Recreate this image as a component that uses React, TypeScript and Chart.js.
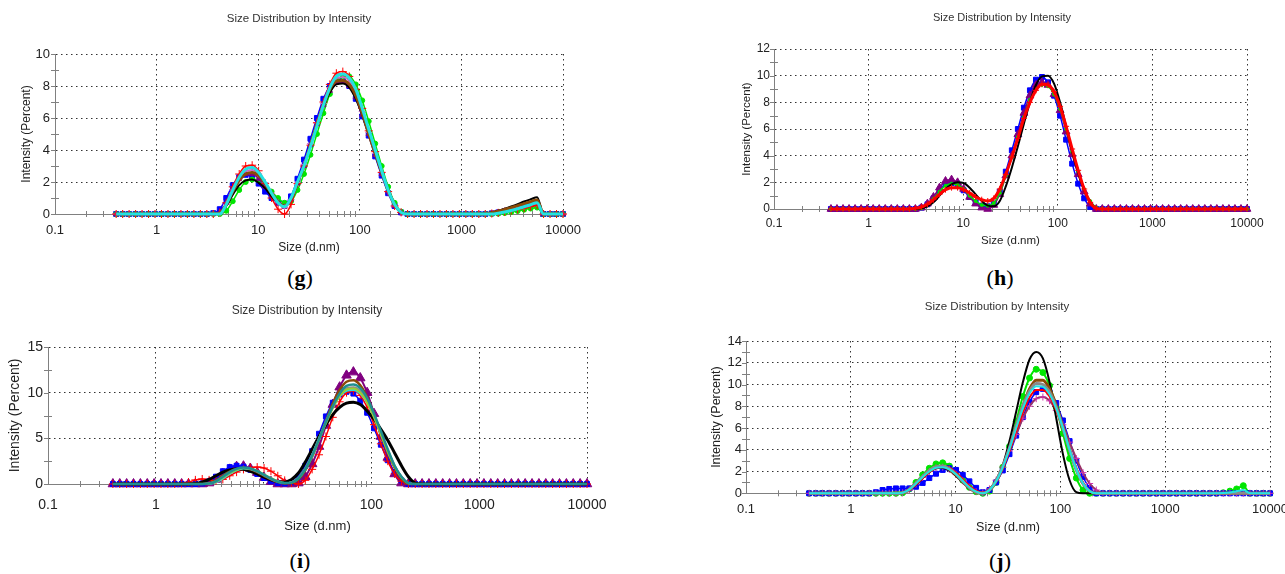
import { useEffect, useRef } from 'react';
import { Chart, registerables } from 'chart.js';

Chart.register(...registerables);
Chart.defaults.font.family = 'Arial, "Liberation Sans", Helvetica, sans-serif';
Chart.defaults.color = '#222';

const TITLE = 'Size Distribution by Intensity';
const X_TITLE = 'Size (d.nm)';
const Y_TITLE = 'Intensity (Percent)';

// Size classes (d.nm) of the intensity distribution
const SIZES = [
  0.4, 0.4632, 0.5365, 0.6213, 0.7195, 0.8332, 0.965, 1.117, 1.294, 1.499,
  1.736, 2.01, 2.328, 2.696, 3.122, 3.615, 4.187, 4.849, 5.615, 6.503,
  7.531, 8.721, 10.1, 11.7, 13.54, 15.69, 18.17, 21.04, 24.36, 28.21,
  32.67, 37.84, 43.82, 50.75, 58.77, 68.06, 78.82, 91.28, 105.7, 122.4,
  141.8, 164.2, 190.1, 220.2, 255, 295.3, 342, 396.1, 458.7, 531.2,
  615.1, 712.4, 825, 955.4, 1106, 1281, 1484, 1718, 1990, 2305,
  2669, 3091, 3580, 4145, 4801, 5560, 6439, 7456, 8635, 10000,
];

const X_TICKS = [0.1, 1, 10, 100, 1000, 10000];
const X_TICK_LABELS = ['0.1', '1', '10', '100', '1000', '10000'];

// ---- panel (g) ----
const G_RED = [
  0, 0, 0, 0, 0, 0, 0, 0, 0, 0,
  0, 0, 0, 0, 0, 0, 0.1, 0.7, 1.7, 2.5,
  3.0, 3.05, 2.7, 1.9, 1.0, 0.3, 0, 0.6, 1.9, 3.0,
  4.3, 5.7, 7.0, 8.1, 8.8, 8.9, 8.6, 7.8, 6.6, 5.2,
  3.9, 2.6, 1.4, 0.5, 0.1, 0, 0, 0, 0, 0,
  0, 0, 0, 0, 0, 0, 0, 0, 0.03, 0.07,
  0.13, 0.2, 0.28, 0.37, 0.46, 0.55, 0, 0, 0, 0,
];
const G_GREEN = [
  0, 0, 0, 0, 0, 0, 0, 0, 0, 0,
  0, 0, 0, 0, 0, 0, 0, 0.2, 0.8, 1.5,
  2.0, 2.15, 2.1, 1.8, 1.4, 1.0, 0.7, 0.8, 1.5, 2.5,
  3.7, 5.0, 6.3, 7.5, 8.3, 8.6, 8.6, 8.1, 7.1, 5.8,
  4.4, 3.0, 1.7, 0.7, 0.15, 0, 0, 0, 0, 0,
  0, 0, 0, 0, 0, 0, 0, 0, 0, 0.02,
  0.06, 0.12, 0.19, 0.27, 0.34, 0.4, 0, 0, 0, 0,
];
const G_BLUE = [
  0, 0, 0, 0, 0, 0, 0, 0, 0, 0,
  0, 0, 0, 0, 0, 0.05, 0.3, 1.0, 1.8, 2.3,
  2.45, 2.3, 1.9, 1.4, 1.0, 0.7, 0.65, 1.1, 2.2, 3.4,
  4.7, 6.0, 7.2, 8.0, 8.4, 8.35, 8.0, 7.2, 6.1, 4.9,
  3.6, 2.4, 1.3, 0.5, 0.1, 0, 0, 0, 0, 0,
  0, 0, 0, 0, 0, 0, 0, 0, 0.04, 0.1,
  0.18, 0.28, 0.38, 0.48, 0.57, 0.65, 0, 0, 0, 0,
];
const G_BLACK = [
  0, 0, 0, 0, 0, 0, 0, 0, 0, 0,
  0, 0, 0, 0, 0, 0, 0.05, 0.5, 1.2, 1.8,
  2.1, 2.15, 1.95, 1.6, 1.1, 0.7, 0.5, 0.9, 1.9, 3.0,
  4.3, 5.5, 6.7, 7.6, 8.1, 8.15, 7.9, 7.2, 6.2, 5.0,
  3.8, 2.6, 1.5, 0.6, 0.1, 0, 0, 0, 0, 0,
  0, 0, 0, 0, 0, 0, 0, 0.03, 0.1, 0.2,
  0.33, 0.47, 0.62, 0.78, 0.92, 1.05, 0, 0, 0, 0,
];
const G_BROWN = [
  0, 0, 0, 0, 0, 0, 0, 0, 0, 0,
  0, 0, 0, 0, 0, 0, 0.05, 0.6, 1.4, 2.1,
  2.5, 2.6, 2.4, 1.9, 1.3, 0.75, 0.5, 0.95, 1.95, 3.0,
  4.3, 5.6, 6.8, 7.8, 8.3, 8.35, 8.1, 7.4, 6.3, 5.0,
  3.8, 2.6, 1.5, 0.6, 0.1, 0, 0, 0, 0, 0,
  0, 0, 0, 0, 0, 0, 0, 0.02, 0.08, 0.17,
  0.28, 0.4, 0.52, 0.65, 0.77, 0.88, 0, 0, 0, 0,
];
const G_PURPLE = [
  0, 0, 0, 0, 0, 0, 0, 0, 0, 0,
  0, 0, 0, 0, 0, 0, 0.1, 0.7, 1.6, 2.2,
  2.5, 2.5, 2.2, 1.7, 1.2, 0.7, 0.45, 0.9, 1.9, 3.0,
  4.3, 5.6, 6.8, 7.7, 8.2, 8.25, 8.0, 7.3, 6.2, 5.0,
  3.7, 2.5, 1.4, 0.5, 0.1, 0, 0, 0, 0, 0,
  0, 0, 0, 0, 0, 0, 0, 0, 0.05, 0.12,
  0.2, 0.3, 0.4, 0.5, 0.6, 0.7, 0, 0, 0, 0,
];
const G_PINK = [
  0, 0, 0, 0, 0, 0, 0, 0, 0, 0,
  0, 0, 0, 0, 0, 0, 0.05, 0.6, 1.5, 2.2,
  2.7, 2.75, 2.5, 1.95, 1.3, 0.7, 0.4, 0.9, 2.0, 3.1,
  4.4, 5.7, 6.9, 7.9, 8.5, 8.55, 8.3, 7.6, 6.4, 5.1,
  3.8, 2.6, 1.4, 0.5, 0.1, 0, 0, 0, 0, 0,
  0, 0, 0, 0, 0, 0, 0, 0, 0.04, 0.1,
  0.18, 0.27, 0.37, 0.47, 0.56, 0.65, 0, 0, 0, 0,
];
const G_CYAN = [
  0, 0, 0, 0, 0, 0, 0, 0, 0, 0,
  0, 0, 0, 0, 0, 0, 0, 0.6, 1.5, 2.3,
  2.8, 2.9, 2.6, 2.0, 1.3, 0.7, 0.45, 1.0, 2.0, 3.0,
  4.2, 5.5, 6.8, 7.9, 8.6, 8.75, 8.5, 7.8, 6.6, 5.3,
  4.0, 2.7, 1.5, 0.6, 0.1, 0, 0, 0, 0, 0,
  0, 0, 0, 0, 0, 0, 0, 0, 0, 0.05,
  0.12, 0.22, 0.33, 0.45, 0.58, 0.7, 0, 0, 0, 0,
];

// ---- panel (h) ----
const H_BLACK = [
  0, 0, 0, 0, 0, 0, 0, 0, 0, 0,
  0, 0, 0, 0, 0, 0.05, 0.2, 0.5, 1.0, 1.5,
  1.85, 2.0, 1.95, 1.6, 1.1, 0.6, 0.25, 0.2, 0.6, 1.7,
  3.1, 4.7, 6.4, 8.0, 9.3, 9.95, 10.0, 9.4, 8.0, 6.2,
  4.3, 2.7, 1.4, 0.5, 0.05, 0, 0, 0, 0, 0,
  0, 0, 0, 0, 0, 0, 0, 0, 0, 0,
  0, 0, 0, 0, 0, 0, 0, 0, 0, 0,
];
const H_BLUE = [
  0, 0, 0, 0, 0, 0, 0, 0, 0, 0,
  0, 0, 0, 0, 0, 0.1, 0.35, 0.8, 1.4, 1.85,
  1.95, 1.8, 1.4, 0.9, 0.5, 0.25, 0.2, 0.4, 1.3, 2.8,
  4.4, 6.0, 7.6, 8.9, 9.7, 9.9, 9.5, 8.5, 7.0, 5.2,
  3.4, 1.9, 0.8, 0.15, 0, 0, 0, 0, 0, 0,
  0, 0, 0, 0, 0, 0, 0, 0, 0, 0,
  0, 0, 0, 0, 0, 0, 0, 0, 0, 0,
];
const H_PURPLE = [
  0, 0, 0, 0, 0, 0, 0, 0, 0, 0,
  0, 0, 0, 0, 0, 0.1, 0.4, 0.9, 1.6, 2.1,
  2.2, 2.0, 1.5, 0.9, 0.4, 0.1, 0, 0.3, 1.1, 2.5,
  4.0, 5.6, 7.2, 8.5, 9.3, 9.5, 9.3, 8.6, 7.4, 5.8,
  4.1, 2.6, 1.3, 0.4, 0, 0, 0, 0, 0, 0,
  0, 0, 0, 0, 0, 0, 0, 0, 0, 0,
  0, 0, 0, 0, 0, 0, 0, 0, 0, 0,
];
const H_GREEN = [
  0, 0, 0, 0, 0, 0, 0, 0, 0, 0,
  0, 0, 0, 0, 0, 0.05, 0.3, 0.75, 1.3, 1.75,
  1.9, 1.8, 1.5, 1.0, 0.6, 0.3, 0.25, 0.45, 1.2, 2.5,
  3.9, 5.4, 6.9, 8.2, 9.0, 9.3, 9.2, 8.6, 7.5, 6.0,
  4.3, 2.8, 1.5, 0.6, 0.1, 0, 0, 0, 0, 0,
  0, 0, 0, 0, 0, 0, 0, 0, 0, 0,
  0, 0, 0, 0, 0, 0, 0, 0, 0, 0,
];
const H_RED = [
  0, 0, 0, 0, 0, 0, 0, 0, 0, 0,
  0, 0, 0, 0, 0.05, 0.15, 0.35, 0.7, 1.1, 1.45,
  1.6, 1.6, 1.45, 1.2, 0.9, 0.7, 0.6, 0.8, 1.5, 2.6,
  3.9, 5.3, 6.8, 8.0, 8.9, 9.35, 9.3, 8.8, 7.7, 6.2,
  4.5, 2.9, 1.5, 0.5, 0.05, 0, 0, 0, 0, 0,
  0, 0, 0, 0, 0, 0, 0, 0, 0, 0,
  0, 0, 0, 0, 0, 0, 0, 0, 0, 0,
];

// ---- panel (i) ----
const I_RED = [
  0, 0, 0, 0, 0, 0, 0, 0, 0, 0,
  0.05, 0.2, 0.45, 0.55, 0.45, 0.35, 0.5, 0.9, 1.3, 1.6,
  1.8, 1.85, 1.75, 1.4, 0.9, 0.4, 0.1, 0, 0.4, 1.6,
  3.2, 5.2, 7.3, 9.0, 10.0, 10.2, 9.7, 8.4, 6.5, 4.4,
  2.5, 1.1, 0.3, 0, 0, 0, 0, 0, 0, 0,
  0, 0, 0, 0, 0, 0, 0, 0, 0, 0,
  0, 0, 0, 0, 0, 0, 0, 0, 0, 0,
];
const I_BLUE = [
  0, 0, 0, 0, 0, 0, 0, 0, 0, 0,
  0, 0, 0, 0.05, 0.3, 0.8, 1.4, 1.85, 2.0, 1.9,
  1.55, 1.1, 0.65, 0.3, 0.1, 0.05, 0.2, 0.8, 2.0, 3.6,
  5.5, 7.4, 8.9, 9.8, 10.1, 9.9, 9.1, 7.8, 6.1, 4.3,
  2.6, 1.3, 0.4, 0, 0, 0, 0, 0, 0, 0,
  0, 0, 0, 0, 0, 0, 0, 0, 0, 0,
  0, 0, 0, 0, 0, 0, 0, 0, 0, 0,
];
const I_BLACK = [
  0, 0, 0, 0, 0, 0, 0, 0, 0, 0,
  0, 0, 0.05, 0.2, 0.5, 0.9, 1.3, 1.55, 1.65, 1.6,
  1.4, 1.1, 0.75, 0.45, 0.25, 0.2, 0.5, 1.2, 2.4, 3.8,
  5.2, 6.5, 7.6, 8.4, 8.85, 8.95, 8.7, 8.0, 7.1, 6.0,
  4.8, 3.4, 2.0, 0.8, 0.1, 0, 0, 0, 0, 0,
  0, 0, 0, 0, 0, 0, 0, 0, 0, 0,
  0, 0, 0, 0, 0, 0, 0, 0, 0, 0,
];
const I_PURPLE = [
  0, 0, 0, 0, 0, 0, 0, 0, 0, 0,
  0, 0, 0, 0, 0.1, 0.5, 1.1, 1.6, 1.9, 1.95,
  1.7, 1.25, 0.7, 0.25, 0, 0, 0, 0.1, 0.8, 2.2,
  4.1, 6.4, 8.7, 10.6, 11.9, 12.25, 11.6, 10.0, 7.7, 5.2,
  2.9, 1.1, 0.1, 0, 0, 0, 0, 0, 0, 0,
  0, 0, 0, 0, 0, 0, 0, 0, 0, 0,
  0, 0, 0, 0, 0, 0, 0, 0, 0, 0,
];
const I_BROWN = [
  0, 0, 0, 0, 0, 0, 0, 0, 0, 0,
  0, 0, 0, 0, 0.1, 0.4, 0.9, 1.35, 1.65, 1.75,
  1.6, 1.3, 0.9, 0.5, 0.2, 0.05, 0.1, 0.5, 1.5, 3.0,
  4.9, 6.9, 8.8, 10.3, 11.2, 11.35, 10.8, 9.5, 7.6, 5.5,
  3.5, 1.8, 0.6, 0, 0, 0, 0, 0, 0, 0,
  0, 0, 0, 0, 0, 0, 0, 0, 0, 0,
  0, 0, 0, 0, 0, 0, 0, 0, 0, 0,
];
const I_TEAL = [
  0, 0, 0, 0, 0, 0, 0, 0, 0, 0,
  0, 0, 0, 0, 0.05, 0.3, 0.8, 1.3, 1.65, 1.8,
  1.7, 1.4, 1.0, 0.6, 0.25, 0.1, 0.15, 0.6, 1.6, 3.1,
  4.9, 6.8, 8.5, 9.9, 10.75, 10.9, 10.5, 9.4, 7.7, 5.8,
  3.8, 2.0, 0.8, 0.1, 0, 0, 0, 0, 0, 0,
  0, 0, 0, 0, 0, 0, 0, 0, 0, 0,
  0, 0, 0, 0, 0, 0, 0, 0, 0, 0,
];
const I_OLIVE = [
  0, 0, 0, 0, 0, 0, 0, 0, 0, 0,
  0, 0, 0, 0, 0.05, 0.25, 0.7, 1.2, 1.55, 1.75,
  1.7, 1.45, 1.05, 0.65, 0.3, 0.1, 0.15, 0.6, 1.6, 3.0,
  4.8, 6.6, 8.3, 9.6, 10.35, 10.45, 10.0, 8.9, 7.3, 5.4,
  3.5, 1.9, 0.7, 0.1, 0, 0, 0, 0, 0, 0,
  0, 0, 0, 0, 0, 0, 0, 0, 0, 0,
  0, 0, 0, 0, 0, 0, 0, 0, 0, 0,
];
const I_GRAY = [
  0, 0, 0, 0, 0, 0, 0, 0, 0, 0,
  0, 0, 0, 0, 0.05, 0.3, 0.75, 1.25, 1.6, 1.75,
  1.65, 1.35, 0.95, 0.55, 0.25, 0.1, 0.2, 0.7, 1.7, 3.2,
  5.0, 6.8, 8.4, 9.7, 10.5, 10.6, 10.2, 9.1, 7.5, 5.6,
  3.7, 2.0, 0.8, 0.1, 0, 0, 0, 0, 0, 0,
  0, 0, 0, 0, 0, 0, 0, 0, 0, 0,
  0, 0, 0, 0, 0, 0, 0, 0, 0, 0,
];
const I_CYAN = [
  0, 0, 0, 0, 0, 0, 0, 0, 0, 0,
  0, 0, 0, 0, 0, 0.2, 0.6, 1.1, 1.5, 1.7,
  1.65, 1.4, 1.0, 0.6, 0.3, 0.1, 0.2, 0.7, 1.7, 3.2,
  5.0, 6.8, 8.4, 9.6, 10.2, 10.3, 9.9, 8.9, 7.4, 5.6,
  3.7, 2.0, 0.8, 0.1, 0, 0, 0, 0, 0, 0,
  0, 0, 0, 0, 0, 0, 0, 0, 0, 0,
  0, 0, 0, 0, 0, 0, 0, 0, 0, 0,
];

// ---- panel (j) ----
const J_BLACK = [
  0, 0, 0, 0, 0, 0, 0, 0, 0, 0,
  0, 0, 0, 0, 0.05, 0.3, 0.8, 1.4, 1.95, 2.3,
  2.35, 2.1, 1.6, 1.0, 0.45, 0.1, 0, 0.3, 1.2, 2.6,
  4.8, 7.5, 10.2, 12.3, 13.0, 12.4, 10.2, 6.9, 3.6, 1.2,
  0.1, 0, 0, 0, 0, 0, 0, 0, 0, 0,
  0, 0, 0, 0, 0, 0, 0, 0, 0, 0,
  0, 0, 0, 0, 0, 0, 0, 0, 0, 0,
];
const J_GREEN = [
  0, 0, 0, 0, 0, 0, 0, 0, 0, 0,
  0, 0, 0, 0, 0.05, 0.4, 1.0, 1.7, 2.3, 2.7,
  2.8, 2.5, 1.9, 1.2, 0.55, 0.15, 0, 0.2, 1.0, 2.4,
  4.3, 6.6, 8.9, 10.6, 11.4, 11.1, 9.9, 7.9, 5.5, 3.2,
  1.4, 0.3, 0, 0, 0, 0, 0, 0, 0, 0,
  0, 0, 0, 0, 0, 0, 0, 0, 0, 0,
  0, 0, 0.05, 0.2, 0.4, 0.7, 0, 0, 0, 0,
];
const J_BROWN = [
  0, 0, 0, 0, 0, 0, 0, 0, 0, 0,
  0, 0, 0, 0, 0.05, 0.35, 0.9, 1.5, 2.05, 2.4,
  2.45, 2.2, 1.7, 1.1, 0.5, 0.1, 0, 0.3, 1.1, 2.4,
  4.1, 6.1, 8.0, 9.6, 10.4, 10.4, 9.6, 8.1, 6.1, 4.0,
  2.2, 0.9, 0.2, 0, 0, 0, 0, 0, 0, 0,
  0, 0, 0, 0, 0, 0, 0, 0, 0, 0,
  0, 0, 0, 0, 0, 0, 0, 0, 0, 0,
];
const J_BLUE = [
  0, 0, 0, 0, 0, 0, 0, 0, 0, 0,
  0.1, 0.3, 0.4, 0.45, 0.45, 0.45, 0.6, 0.95, 1.4, 1.8,
  2.15, 2.3, 2.15, 1.7, 1.1, 0.5, 0.1, 0.3, 1.0, 2.1,
  3.6, 5.3, 7.0, 8.4, 9.3, 9.6, 9.3, 8.3, 6.7, 4.8,
  3.0, 1.5, 0.5, 0, 0, 0, 0, 0, 0, 0,
  0, 0, 0, 0, 0, 0, 0, 0, 0, 0,
  0, 0, 0, 0, 0, 0, 0, 0, 0, 0,
];
const J_RED = [
  0, 0, 0, 0, 0, 0, 0, 0, 0, 0,
  0, 0, 0, 0, 0.05, 0.3, 0.8, 1.4, 1.95, 2.35,
  2.5, 2.35, 1.9, 1.3, 0.7, 0.25, 0.05, 0.3, 1.1, 2.3,
  3.9, 5.7, 7.4, 8.8, 9.5, 9.5, 8.9, 7.6, 5.9, 4.0,
  2.3, 1.0, 0.2, 0, 0, 0, 0, 0, 0, 0,
  0, 0, 0, 0, 0, 0, 0, 0, 0, 0,
  0, 0, 0, 0, 0, 0, 0, 0, 0, 0,
];
const J_CYAN = [
  0, 0, 0, 0, 0, 0, 0, 0, 0, 0,
  0, 0, 0, 0, 0.05, 0.35, 0.9, 1.5, 2.0, 2.35,
  2.4, 2.2, 1.75, 1.15, 0.55, 0.15, 0, 0.3, 1.1, 2.4,
  4.1, 6.0, 7.8, 9.2, 9.85, 9.8, 9.1, 7.8, 6.0, 4.0,
  2.2, 0.9, 0.2, 0, 0, 0, 0, 0, 0, 0,
  0, 0, 0, 0, 0, 0, 0, 0, 0, 0,
  0, 0, 0.03, 0.08, 0.18, 0.3, 0, 0, 0, 0,
];
const J_GRAY = [
  0, 0, 0, 0, 0, 0, 0, 0, 0, 0,
  0, 0, 0, 0, 0.05, 0.35, 0.95, 1.55, 2.1, 2.45,
  2.5, 2.25, 1.75, 1.1, 0.5, 0.1, 0, 0.3, 1.15, 2.5,
  4.2, 6.2, 8.0, 9.4, 10.1, 10.0, 9.3, 7.9, 6.0, 4.0,
  2.2, 0.9, 0.2, 0, 0, 0, 0, 0, 0, 0,
  0, 0, 0, 0, 0, 0, 0, 0, 0, 0,
  0, 0, 0, 0, 0, 0, 0, 0, 0, 0,
];
const J_MAROON = [
  0, 0, 0, 0, 0, 0, 0, 0, 0, 0,
  0, 0, 0, 0, 0.05, 0.3, 0.85, 1.45, 2.0, 2.35,
  2.4, 2.2, 1.75, 1.15, 0.55, 0.15, 0.05, 0.4, 1.2, 2.4,
  3.9, 5.4, 6.9, 8.0, 8.7, 8.85, 8.5, 7.6, 6.3, 4.7,
  3.2, 1.9, 0.9, 0.3, 0, 0, 0, 0, 0, 0,
  0, 0, 0, 0, 0, 0, 0, 0, 0, 0,
  0, 0, 0, 0, 0, 0, 0, 0, 0, 0,
];

const RED = '#ff0000';
const GREEN = '#00e600';
const BLUE = '#0000ff';
const BLACK = '#000000';
const BROWN = '#8a4b08';
const PURPLE = '#800080';
const CYAN = '#22e2e2';
const PINK = '#cc66cc';
const TEAL = '#1f8f8f';
const OLIVE = '#9acd32';
const GRAY = '#8a8a8a';
const MAROON = '#993366';
const AXIS = '#808080';
const GRID = '#333333';

type Series = {
  data: number[];
  color: string;
  width: number;
  style?: string;
  radius?: number;
  pointColor?: string;
};

type PanelSpec = {
  tag: string;
  tagX: number;
  tagTop: number;
  left: number;
  top: number;
  width: number;
  height: number;
  yAxisWidth: number;
  xAxisHeight: number;
  padRight: number;
  titleSize: number;
  titlePadTop: number;
  titlePadBottom: number;
  tickSize: number;
  yTickPad: number;
  xTickPad: number;
  yTitleSize: number;
  yTitlePad: number;
  xTitleSize: number;
  xTitlePad: number;
  yMax: number;
  yStep: number;
  yMinor: number;
  series: Series[];
};

// Datasets are listed top-most first
const PANELS: PanelSpec[] = [
  {
    tag: 'g', tagX: 300, tagTop: 267,
    left: 0, top: 0, width: 598, height: 262,
    yAxisWidth: 55, xAxisHeight: 48, padRight: 35,
    titleSize: 11.5, titlePadTop: 12.1, titlePadBottom: 28.1,
    tickSize: 13, yTickPad: 5, xTickPad: 8.2,
    yTitleSize: 12, yTitlePad: 19.8, xTitleSize: 12, xTitlePad: 6.8,
    yMax: 10, yStep: 2, yMinor: 1,
    series: [
      { data: G_CYAN, color: CYAN, width: 3 },
      { data: G_BROWN, color: BROWN, width: 3 },
      { data: G_BLACK, color: BLACK, width: 2 },
      { data: G_RED, color: RED, width: 1.5, style: 'cross', radius: 4 },
      { data: G_PINK, color: PINK, width: 1.5, style: 'cross', radius: 3.5 },
      { data: G_PURPLE, color: PURPLE, width: 1.5, style: 'triangle', radius: 3 },
      { data: G_GREEN, color: GREEN, width: 1.5, style: 'circle', radius: 2.5 },
      { data: G_BLUE, color: BLUE, width: 1.5, style: 'rect', radius: 3.5 },
    ],
  },
  {
    tag: 'h', tagX: 1000, tagTop: 267,
    left: 720, top: 0, width: 564, height: 255,
    yAxisWidth: 54, xAxisHeight: 46, padRight: 37,
    titleSize: 11, titlePadTop: 11.7, titlePadBottom: 24.1,
    tickSize: 12, yTickPad: 4, xTickPad: 7.1,
    yTitleSize: 11.5, yTitlePad: 20.1, xTitleSize: 11.5, xTitlePad: 7.4,
    yMax: 12, yStep: 2, yMinor: 1,
    series: [
      { data: H_RED, color: RED, width: 3, style: 'cross', radius: 3 },
      { data: H_BLACK, color: BLACK, width: 2 },
      { data: H_GREEN, color: GREEN, width: 1.5, style: 'circle', radius: 1.5 },
      { data: H_PURPLE, color: PURPLE, width: 1.5, style: 'triangle', radius: 4.5 },
      { data: H_BLUE, color: BLUE, width: 1.5, style: 'rect', radius: 3.5 },
    ],
  },
  {
    tag: 'i', tagX: 300, tagTop: 550,
    left: 0, top: 290, width: 614, height: 250,
    yAxisWidth: 48, xAxisHeight: 56, padRight: 27,
    titleSize: 12, titlePadTop: 13.8, titlePadBottom: 28.8,
    tickSize: 14, yTickPad: 5, xTickPad: 12.6,
    yTitleSize: 14, yTitlePad: 6.6, xTitleSize: 13, xTitlePad: 6.2,
    yMax: 15, yStep: 5, yMinor: 2.5,
    series: [
      { data: I_TEAL, color: TEAL, width: 2.5 },
      { data: I_OLIVE, color: OLIVE, width: 2 },
      { data: I_GRAY, color: GRAY, width: 2 },
      { data: I_CYAN, color: CYAN, width: 2 },
      { data: I_BROWN, color: BROWN, width: 2.5 },
      { data: I_BLACK, color: BLACK, width: 3 },
      { data: I_RED, color: RED, width: 1.5, style: 'cross', radius: 4 },
      { data: I_BLUE, color: BLUE, width: 1.5, style: 'rect', radius: 3.5 },
      { data: I_PURPLE, color: PURPLE, width: 2, style: 'triangle', radius: 5.5 },
    ],
  },
  {
    tag: 'j', tagX: 1000, tagTop: 550,
    left: 709, top: 290, width: 576, height: 250,
    yAxisWidth: 37, xAxisHeight: 46.7, padRight: 15,
    titleSize: 11.5, titlePadTop: 10.4, titlePadBottom: 26.8,
    tickSize: 13, yTickPad: 4, xTickPad: 7.9,
    yTitleSize: 12.5, yTitlePad: 0.5, xTitleSize: 12.5, xTitlePad: 5.2,
    yMax: 14, yStep: 2, yMinor: 1,
    series: [
      { data: J_CYAN, color: CYAN, width: 2 },
      { data: J_GRAY, color: GRAY, width: 3 },
      { data: J_RED, color: RED, width: 2 },
      { data: J_BROWN, color: BROWN, width: 3 },
      { data: J_BLACK, color: BLACK, width: 2 },
      { data: J_MAROON, color: MAROON, width: 2, style: 'cross', radius: 3.5, pointColor: '#cc33aa' },
      { data: J_BLUE, color: BLUE, width: 1.5, style: 'rect', radius: 3.5 },
      { data: J_GREEN, color: GREEN, width: 2, style: 'circle', radius: 3 },
    ],
  },
];

// Small tick marks on both axes (log minors on x, half steps on y)
const minorTicks = {
  id: 'minorTicks',
  beforeDatasetsDraw(chart: any, _args: any, opts: any) {
    const { ctx, chartArea, scales } = chart;
    const xs = scales.x;
    const ys = scales.y;
    ctx.save();
    ctx.strokeStyle = AXIS;
    ctx.lineWidth = 1;
    ctx.beginPath();
    for (let k = 0; k < 5; k++) {
      const decade = X_TICKS[k];
      for (let m = 2; m < 10; m++) {
        const px = Math.round(xs.getPixelForValue(decade * m)) + 0.5;
        ctx.moveTo(px, chartArea.bottom - 3);
        ctx.lineTo(px, chartArea.bottom + 3);
      }
    }
    const n = Math.round(ys.max / opts.yStep);
    const per = Math.round(opts.yMajor / opts.yStep);
    for (let i = 0; i <= n; i++) {
      const py = Math.round(ys.getPixelForValue(i * opts.yStep)) + 0.5;
      const major = i % per === 0;
      ctx.moveTo(chartArea.left - 4, py);
      ctx.lineTo(major ? chartArea.left : chartArea.left + 4, py);
    }
    ctx.stroke();
    ctx.restore();
  },
};

function buildConfig(spec: PanelSpec) {
  return {
    type: 'line',
    data: {
      labels: SIZES,
      datasets: spec.series.map((s) => ({
        data: s.data,
        borderColor: s.color,
        backgroundColor: s.pointColor ?? s.color,
        borderWidth: s.width,
        pointStyle: s.style ?? 'circle',
        pointRadius: s.radius ?? 0,
        pointBorderColor: s.pointColor ?? s.color,
        pointBackgroundColor: s.pointColor ?? s.color,
        pointBorderWidth: 1,
        cubicInterpolationMode: 'monotone',
        tension: 0.4,
        fill: false,
        clip: false,
      })),
    },
    options: {
      responsive: false,
      animation: false,
      events: [],
      layout: { padding: 0 },
      plugins: {
        legend: { display: false },
        tooltip: { enabled: false },
        title: {
          display: true,
          text: TITLE,
          color: '#333',
          font: { size: spec.titleSize, weight: 'normal', lineHeight: 1.2 },
          padding: { top: spec.titlePadTop, bottom: spec.titlePadBottom },
        },
        minorTicks: { yStep: spec.yMinor, yMajor: spec.yStep },
      },
      scales: {
        x: {
          type: 'logarithmic',
          min: 0.1,
          max: 10000,
          afterBuildTicks: (s: any) => {
            s.ticks = X_TICKS.map((v) => ({ value: v }));
          },
          afterFit: (s: any) => {
            s.height = spec.xAxisHeight;
            s.paddingLeft = 0;
            s.paddingRight = spec.padRight;
          },
          ticks: {
            autoSkip: false,
            maxRotation: 0,
            padding: spec.xTickPad,
            color: '#222',
            font: { size: spec.tickSize },
            callback: (_v: any, i: number) => X_TICK_LABELS[i],
          },
          grid: { drawTicks: false, color: GRID, lineWidth: 1 },
          border: { display: true, color: AXIS, width: 1, dash: [1.5, 3.5] },
          title: {
            display: true,
            text: X_TITLE,
            color: '#222',
            font: { size: spec.xTitleSize, lineHeight: 1.2 },
            padding: { top: 0, bottom: spec.xTitlePad },
          },
        },
        y: {
          type: 'linear',
          min: 0,
          max: spec.yMax,
          afterFit: (s: any) => {
            s.width = spec.yAxisWidth;
          },
          ticks: {
            stepSize: spec.yStep,
            padding: spec.yTickPad,
            color: '#222',
            font: { size: spec.tickSize },
          },
          grid: { drawTicks: false, color: GRID, lineWidth: 1 },
          border: { display: true, color: AXIS, width: 1, dash: [1.5, 3.5] },
          title: {
            display: true,
            text: Y_TITLE,
            color: '#222',
            font: { size: spec.yTitleSize, lineHeight: 1.2 },
            padding: { top: spec.yTitlePad, bottom: 0 },
          },
        },
      },
    },
    plugins: [minorTicks],
  };
}

function Panel({ spec }: { spec: PanelSpec }) {
  const ref = useRef<HTMLCanvasElement | null>(null);
  useEffect(() => {
    const canvas = ref.current;
    if (!canvas) return;
    const chart = new Chart(canvas, buildConfig(spec) as any);
    return () => chart.destroy();
  }, [spec]);
  return (
    <canvas
      ref={ref}
      width={spec.width}
      height={spec.height}
      style={{ position: 'absolute', left: spec.left, top: spec.top, width: spec.width, height: spec.height }}
    />
  );
}

export default function App() {
  return (
    <div style={{ position: 'absolute', left: 0, top: 0, width: 1285, height: 574, background: '#fff', overflow: 'hidden' }}>
      {PANELS.map((p) => (
        <Panel key={p.tag} spec={p} />
      ))}
      {PANELS.map((p) => (
        <div
          key={'tag-' + p.tag}
          style={{
            position: 'absolute',
            left: p.tagX - 40,
            top: p.tagTop,
            width: 80,
            textAlign: 'center',
            fontFamily: '"Liberation Serif", "Times New Roman", serif',
            fontSize: 22,
            lineHeight: '22px',
            color: '#000',
          }}
        >
          (<b>{p.tag}</b>)
        </div>
      ))}
    </div>
  );
}
